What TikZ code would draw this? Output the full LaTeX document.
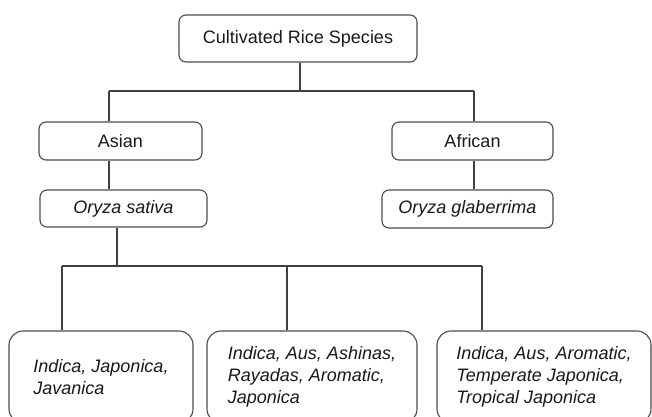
\documentclass[tikz,border=0pt]{standalone}
\usepackage{fontspec}
\setmainfont{Liberation Sans}
\begin{document}
\begin{tikzpicture}[x=1pt,y=-1pt,
  box/.style={draw=black!70, line width=1.1pt, rounded corners=7pt, inner sep=0pt,
    font=\fontsize{18}{22}\selectfont, text=black!90},
  bigbox/.style={box, rounded corners=14pt, align=left},
  conn/.style={draw=black!75, line width=1.2pt}]
\useasboundingbox (0,0) rectangle (652,416);
\clip (0,0) rectangle (652,416);
\fill[white] (0,0) rectangle (652,416);
% nodes
\node[box, minimum width=238pt, minimum height=47pt] (top) at (298,38.5) {Cultivated Rice Species};
\node[box, minimum width=163pt, minimum height=38pt] (asian) at (120.5,141) {Asian};
\node[box, minimum width=161pt, minimum height=38pt] (african) at (472.5,141) {African};
\node[box, minimum width=167pt, minimum height=37pt] (sativa) at (123.5,208.5) {\itshape Oryza sativa};
\node[box, minimum width=171pt, minimum height=38pt] (glab) at (467.5,209) {\itshape Oryza glaberrima};
\node[bigbox, minimum width=184pt, minimum height=92pt] (b1) at (101,377) {\itshape Indica, Japonica,\\\itshape Javanica};
\node[bigbox, minimum width=210pt, minimum height=92pt] (b2) at (312,377) {\itshape Indica, Aus, Ashinas,\\\itshape Rayadas, Aromatic,\\\itshape Japonica};
\node[bigbox, minimum width=214pt, minimum height=92pt] (b3) at (544,377) {\itshape Indica, Aus, Aromatic,\\\itshape Temperate Japonica,\\\itshape Tropical Japonica};
% junctions
\coordinate (ja) at (109,91);
\coordinate (jf) at (474,91);
\coordinate (jt) at (300,91);
\coordinate (k1) at (62,266);
\coordinate (k2) at (287,266);
\coordinate (k3) at (482,266);
\coordinate (ks) at (117,266);
% connectors
\draw[conn] (top.south -| jt) -- (jt);
\draw[conn] (ja) -- (jf);
\draw[conn] (ja) -- (ja |- asian.north);
\draw[conn] (jf) -- (jf |- african.north);
\draw[conn] (asian.south -| ja) -- (sativa.north -| ja);
\draw[conn] (african.south -| jf) -- (glab.north -| jf);
\draw[conn] (sativa.south -| ks) -- (ks);
\draw[conn] (k1) -- (k3);
\draw[conn] (k1) -- (k1 |- b1.north);
\draw[conn] (k2) -- (k2 |- b2.north);
\draw[conn] (k3) -- (k3 |- b3.north);
\end{tikzpicture}
\end{document}
